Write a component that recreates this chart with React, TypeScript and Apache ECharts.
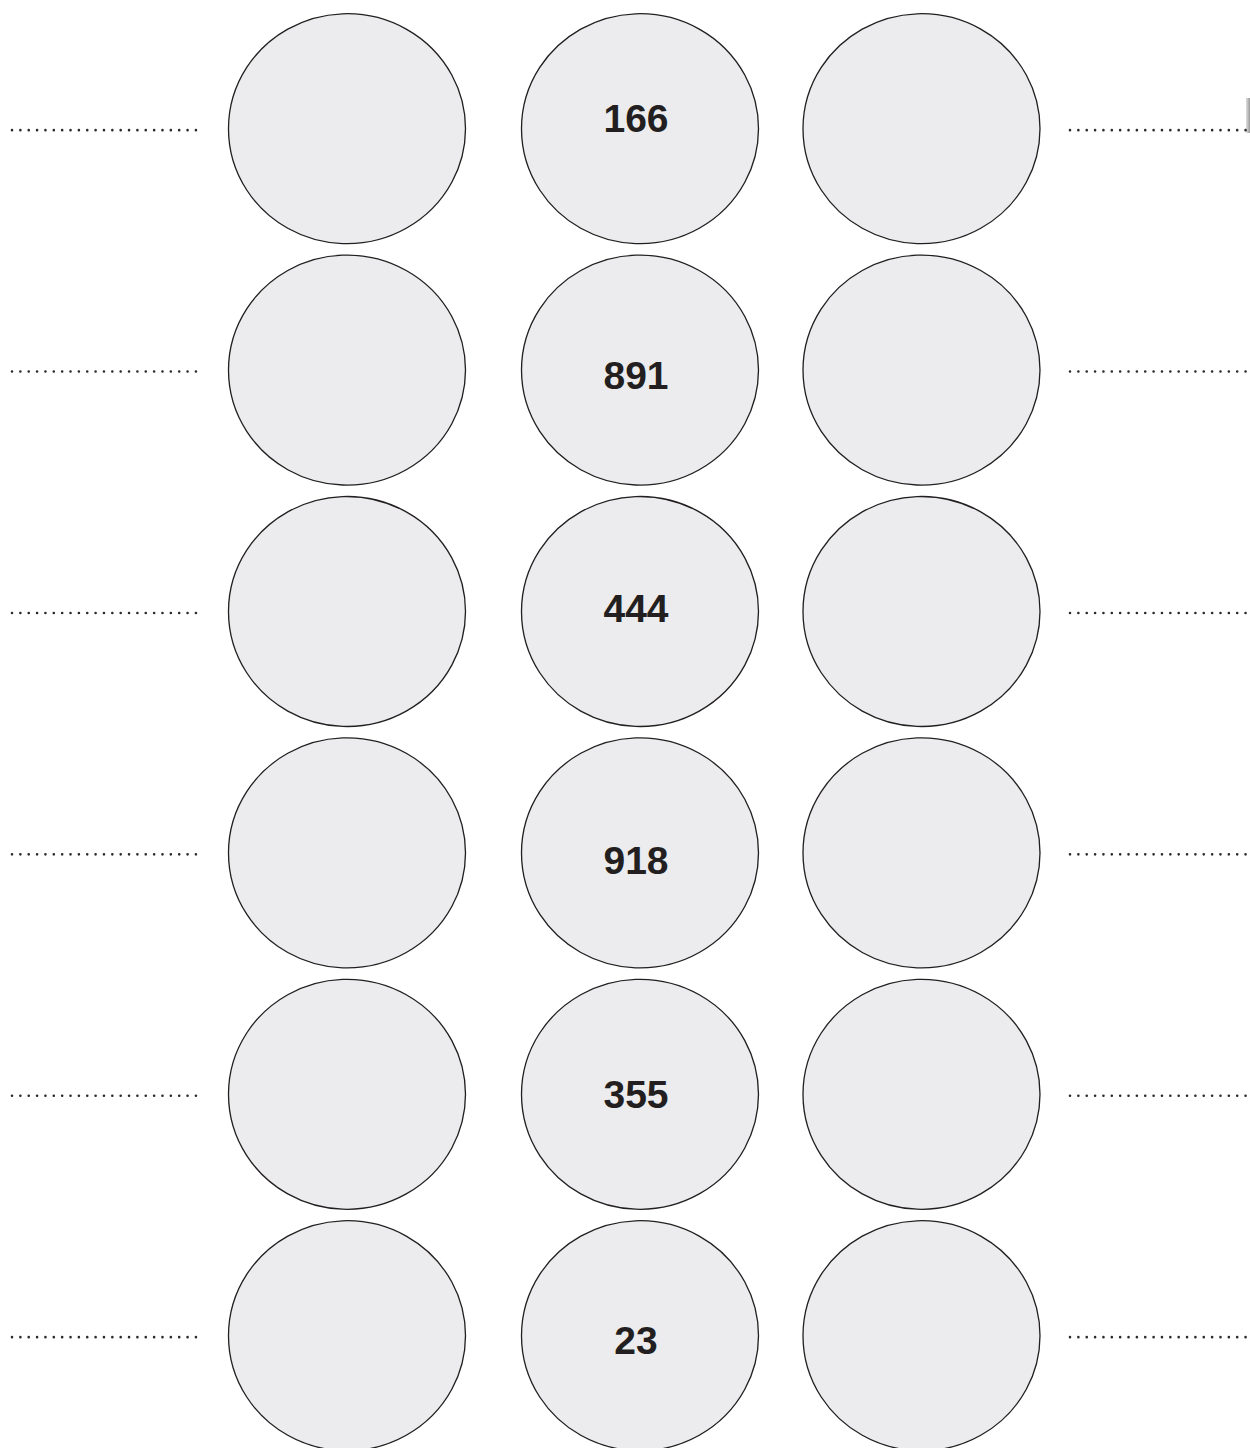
import React, { useEffect, useRef } from "react";
import * as echarts from "echarts";

// ---- data ----
const rowCategories = ["row1", "row2", "row3", "row4", "row5", "row6"];
const middleValues = [166, 891, 444, 918, 355, 23];

// ---- layout constants (not data) ----
const W = 1250;
const H = 1448;
const COL_X = [347, 640, 921.5];
const LABEL_OFFSET_Y = [-10, 5, -3.5, 8, 0, 5];
const LEFT_DOTS = [12, 199];
const RIGHT_DOTS = [1070, 1252];
const ROW_PX = 241.4;
const FIRST_ROW_PX = 128.7;

export default function App() {
  const ref = useRef<HTMLDivElement>(null);

  useEffect(() => {
    if (!ref.current) return;
    const chart = echarts.init(ref.current, undefined, { renderer: "svg" });

    const yMin = -FIRST_ROW_PX / ROW_PX;
    const yMax = yMin + H / ROW_PX;

    const circleSeries = COL_X.map((cx, ci) => ({
      type: "scatter",
      name: "col" + ci,
      symbol: "circle",
      symbolSize: [237, 230],
      silent: true,
      itemStyle: {
        color: "#ececee",
        borderColor: "#231f20",
        borderWidth: 1.3,
        opacity: 1,
      },
      data: rowCategories.map((r, ri) => {
        const item: any = { name: r, value: [cx, ri] };
        if (ci === 1) {
          item.label = {
            show: true,
            position: "inside",
            offset: [-4, LABEL_OFFSET_Y[ri]],
            formatter: String(middleValues[ri]),
            fontFamily: "Liberation Sans, Arial, sans-serif",
            fontWeight: "bold",
            fontSize: 39,
            color: "#231f20",
          };
        }
        return item;
      }),
      z: 2,
    }));

    const dotData: any[] = [];
    rowCategories.forEach((r, ri) => {
      dotData.push([LEFT_DOTS[0], ri + 0.006], [LEFT_DOTS[1], ri + 0.006], ["-", "-"]);
      dotData.push([RIGHT_DOTS[0], ri + 0.006], [RIGHT_DOTS[1], ri + 0.006], ["-", "-"]);
    });

    const option: any = {
      animation: false,
      backgroundColor: "#ffffff",
      grid: { left: 0, right: 0, top: 0, bottom: 0, containLabel: false },
      xAxis: { type: "value", min: 0, max: W, show: false },
      yAxis: {
        type: "value",
        min: yMin,
        max: yMax,
        inverse: true,
        show: false,
      },
      series: [
        {
          type: "line",
          name: "dots",
          data: dotData,
          connectNulls: false,
          showSymbol: false,
          symbol: "none",
          silent: true,
          lineStyle: {
            color: "#2a2a2a",
            width: 2.6,
            type: [0.01, 8.35],
            cap: "round",
          },
          z: 1,
        },
        ...circleSeries,
      ],
      graphic: [
        {
          type: "rect",
          shape: { x: 1246, y: 98, width: 4, height: 35 },
          style: {
            fill: new echarts.graphic.LinearGradient(0, 0, 1, 0, [
              { offset: 0, color: "#e0e0e0" },
              { offset: 1, color: "#9a9a9a" },
            ]),
          },
          silent: true,
        },
      ],
    };

    chart.setOption(option);
    return () => chart.dispose();
  }, []);

  return (
    <div
      ref={ref}
      style={{ position: "absolute", left: 0, top: 0, width: W, height: H }}
    />
  );
}
